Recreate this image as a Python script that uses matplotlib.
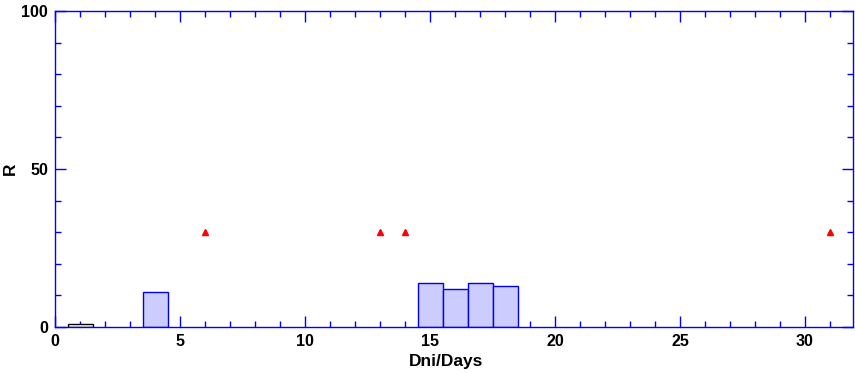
import matplotlib.pyplot as plt
from matplotlib.ticker import MultipleLocator

# histogram bars (day, R)
hollow_days = [1]
hollow_vals = [1]
bar_days = [4, 15, 16, 17, 18]
bar_vals = [11, 14, 12, 14, 13]

# red triangle markers
tri_days = [6, 13, 14, 31]
tri_vals = [30, 30, 30, 30]

plt.rcParams['font.family'] = ['Liberation Sans', 'DejaVu Sans']
plt.rcParams['font.weight'] = 'bold'

fig = plt.figure(figsize=(8.55, 3.73), dpi=100)
ax = fig.add_axes([55 / 855, 46 / 373, 798 / 855, 316 / 373])

ax.bar(hollow_days, hollow_vals, width=1, color='white', edgecolor='black', linewidth=1, zorder=2)
ax.bar(bar_days, bar_vals, width=1, color='#ccccff', edgecolor='#0000ee', linewidth=1, zorder=2)
ax.plot(tri_days, tri_vals, linestyle='none', marker='^', color='red', markersize=5, zorder=3)

ax.set_xlim(0, 31.92)
ax.set_ylim(0, 100)
ax.xaxis.set_major_locator(MultipleLocator(5))
ax.xaxis.set_minor_locator(MultipleLocator(1))
ax.yaxis.set_major_locator(MultipleLocator(50))
ax.yaxis.set_minor_locator(MultipleLocator(10))

for s in ax.spines.values():
    s.set_color('blue')
    s.set_linewidth(1)
ax.tick_params(which='both', direction='in', color='blue', top=True, right=True, labelsize=11.5, zorder=4)
ax.tick_params(which='major', length=8, width=1, pad=5)
ax.tick_params(which='minor', length=4, width=1)
for t in ax.get_xticklabels() + ax.get_yticklabels():
    t.set_fontweight('bold')

ax.set_xlabel('Dni/Days', fontsize=12.5, fontweight='bold')
ax.set_ylabel('R', fontsize=12.5, fontweight='bold')
ax.xaxis.set_label_coords(0.49, -0.085)
ax.yaxis.set_label_coords(-0.047, 0.5)

fig.savefig('out.png', dpi=100)
